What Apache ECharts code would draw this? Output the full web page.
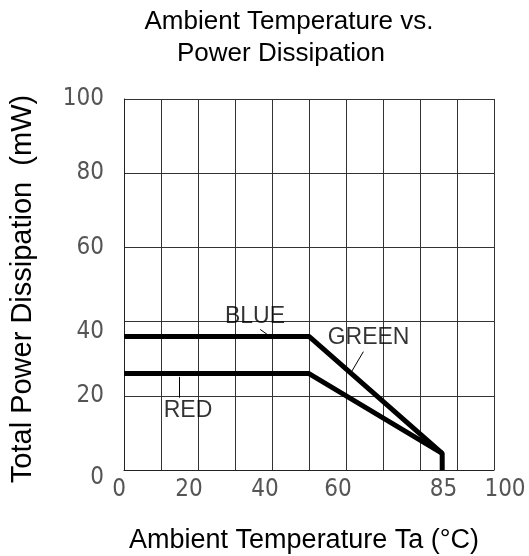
<!DOCTYPE html>
<html>
<head>
<meta charset="utf-8">
<title>Ambient Temperature vs. Power Dissipation</title>
<script src="https://cdn.jsdelivr.net/npm/echarts@6.0.0/dist/echarts.min.js"></script>
<style>
  html, body { margin: 0; padding: 0; background: #fff; }
  #main { width: 529px; height: 556px; }
</style>
</head>
<body>
<div id="main"></div>
<script>
  // curve data (x = ambient temperature, y = power in mW)
  const blueX = [0, 50, 86, 86]
  const blueY = [36, 36, 4.5, 0]
  const redX = [0, 50, 86]
  const redY = [26, 26, 4.5]

  // tick labels
  const xTickLabels = [0, 20, 40, 60, 85, 100]
  const yTickLabels = [0, 20, 40, 60, 80, 100]

  // callout texts and their leader lines
  const calloutNames = ['BLUE', 'GREEN', 'RED']
  const calloutX = [35.4, 66.1, 17.3]
  const calloutY = [41.4, 35.6, 16.0]
  const leaderFrom = [[36.8, 37.9], [64.7, 31.9], [14.9, 25.1]]
  const leaderTo = [[38.9, 36.4], [61.5, 26.5], [14.9, 19.5]]

  // hand placed tick labels in the original drawing, pixel nudges
  const xNudge = { 0: -5, 20: -9, 40: -7, 60: -8, 85: 5, 100: 11 }
  const yNudge = { 0: 4, 40: 5 }

  const tickFont = {
    fontFamily: '"Liberation Sans Narrow", "DejaVu Sans Condensed", sans-serif',
    fontSize: 24,
    color: '#555'
  }
  const textFont = '"Liberation Sans", Arial, sans-serif'

  function zip(xs, ys) {
    return xs.map((x, i) => [x, ys[i]])
  }

  const xRich = {}
  xTickLabels.forEach(v => {
    const d = xNudge[v] || 0
    xRich['t' + v] = Object.assign({}, tickFont, {
      padding: d >= 0 ? [0, 0, 0, 2 * d] : [0, -2 * d, 0, 0]
    })
  })
  const yRich = {}
  yTickLabels.forEach(v => {
    const d = yNudge[v] || 0
    yRich['t' + v] = Object.assign({}, tickFont, {
      padding: [4 * d, 0, 0, 0]
    })
  })

  const chart = echarts.init(document.getElementById('main'))

  const titleStyle = {
    fontFamily: textFont,
    fontSize: 26,
    fontWeight: 'normal',
    color: '#000'
  }

  const option = {
    animation: false,
    title: [
      { text: 'Ambient Temperature vs.', left: 284, top: 4, textAlign: 'center', textStyle: titleStyle },
      { text: 'Power Dissipation', left: 276, top: 36, textAlign: 'center', textStyle: titleStyle }
    ],
    grid: {
      left: 124,
      right: 35,
      top: 99,
      bottom: 86,
      containLabel: false,
      outerBoundsMode: 'none'
    },
    xAxis: [
      {
        // grid lines every 10
        type: 'value',
        min: 0,
        max: 100,
        interval: 10,
        position: 'bottom',
        axisLine: { show: true, lineStyle: { color: '#222', width: 1 } },
        axisTick: { show: false },
        axisLabel: { show: false },
        splitLine: { show: true, lineStyle: { color: '#333', width: 1 } },
        name: 'Ambient Temperature Ta (°C)',
        nameLocation: 'middle',
        nameGap: 57,
        nameTextStyle: {
          fontFamily: textFont,
          fontSize: 27,
          color: '#000',
          padding: [0, 0, 0, -10]
        }
      },
      {
        // labels only
        type: 'value',
        min: 0,
        max: 100,
        interval: 5,
        position: 'bottom',
        axisLine: { show: false },
        axisTick: { show: false },
        splitLine: { show: false },
        axisLabel: {
          interval: 0,
          margin: 8,
          formatter: v => xTickLabels.includes(v) ? '{t' + v + '|' + v + '}' : '',
          rich: xRich
        }
      }
    ],
    yAxis: {
      type: 'value',
      min: 0,
      max: 100,
      interval: 20,
      axisLine: { show: true, lineStyle: { color: '#222', width: 1 } },
      axisTick: { show: false },
      splitLine: { show: true, lineStyle: { color: '#333', width: 1 } },
      axisLabel: {
        margin: 20,
        formatter: v => '{t' + v + '|' + v + '}',
        rich: yRich
      },
      name: 'Total Power Dissipation  (mW)',
      nameLocation: 'middle',
      nameGap: 87,
      nameTextStyle: {
        fontFamily: textFont,
        fontSize: 29,
        color: '#000',
        padding: [0, 9, 0, 0]
      }
    },
    series: [
      {
        name: 'BLUE',
        type: 'line',
        xAxisIndex: 0,
        data: zip(blueX, blueY),
        symbol: 'none',
        lineStyle: { color: '#000', width: 5 },
        z: 5
      },
      {
        name: 'RED',
        type: 'line',
        xAxisIndex: 0,
        data: zip(redX, redY),
        symbol: 'none',
        lineStyle: { color: '#000', width: 5 },
        z: 5
      },
      {
        name: 'callouts',
        type: 'scatter',
        xAxisIndex: 0,
        symbolSize: 0,
        data: calloutNames.map((n, i) => ({ name: n, value: [calloutX[i], calloutY[i]] })),
        label: {
          show: true,
          position: 'inside',
          formatter: p => p.name,
          fontFamily: textFont,
          fontSize: 23,
          color: '#000'
        },
        markLine: {
          silent: true,
          symbol: 'none',
          label: { show: false },
          lineStyle: { color: '#000', width: 1, type: 'solid' },
          data: leaderFrom.map((p, i) => [{ coord: p }, { coord: leaderTo[i] }])
        },
        z: 6
      }
    ]
  }

  chart.setOption(option)
</script>
</body>
</html>
